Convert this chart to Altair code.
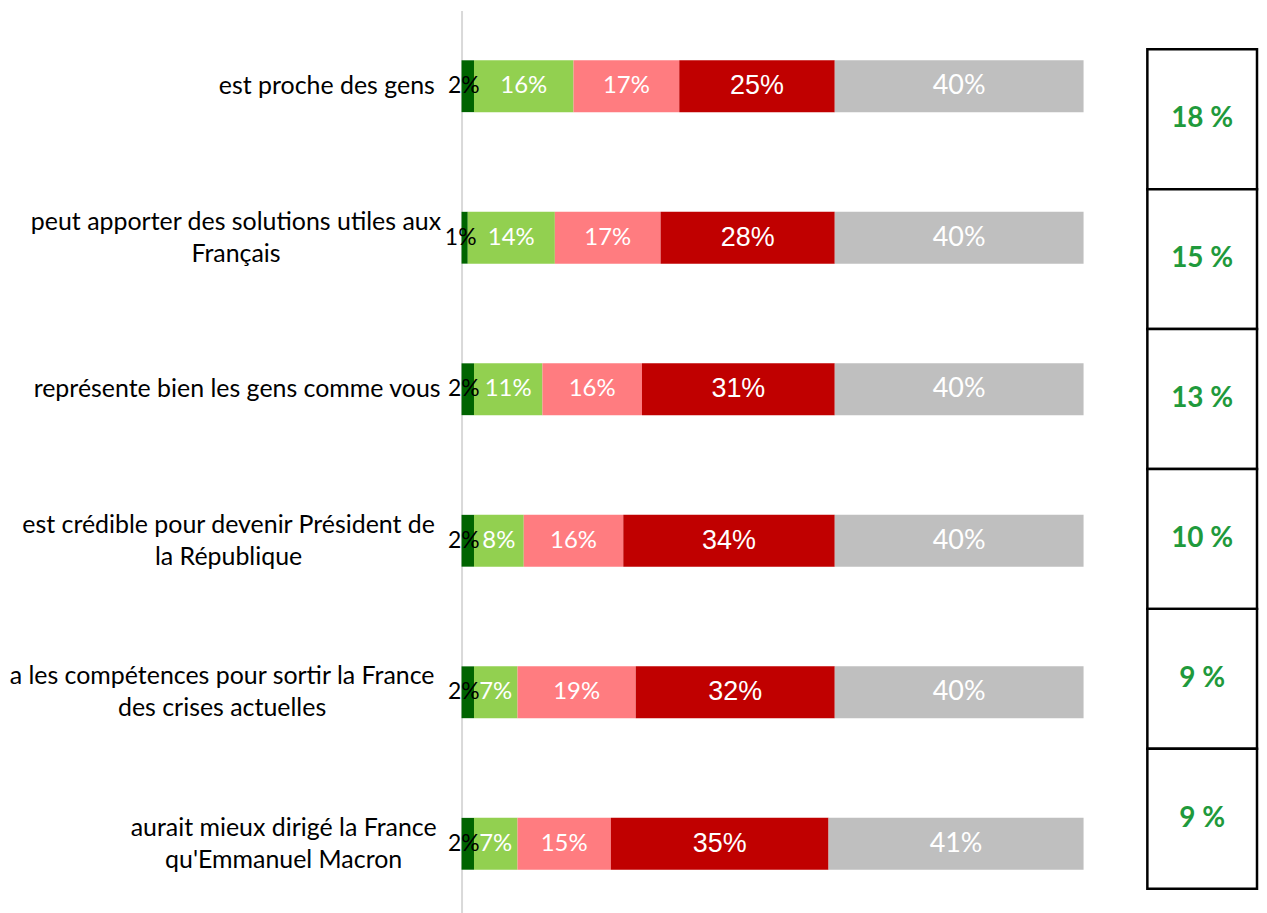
import altair as alt
import pandas as pd

categories = [
    "est proche des gens",
    "peut apporter des solutions utiles aux\nFrançais",
    "représente bien les gens comme vous",
    "est crédible pour devenir Président de\nla République",
    "a les compétences pour sortir la France\ndes crises actuelles",
    "aurait mieux dirigé la France\nqu'Emmanuel Macron",
]
series_names = [
    "Tout à fait",
    "Plutôt",
    "Plutôt pas",
    "Pas du tout",
    "Ne se prononce pas",
]
tout_a_fait = [2, 1, 2, 2, 2, 2]
plutot = [16, 14, 11, 8, 7, 7]
plutot_pas = [17, 17, 16, 16, 19, 15]
pas_du_tout = [25, 28, 31, 34, 32, 35]
nsp = [40, 40, 40, 40, 40, 41]
totals = [18, 15, 13, 10, 9, 9]

colors = ["#006400", "#92D050", "#FF7C80", "#C00000", "#BFBFBF"]
green_text = "#1F9A3C"

values = [tout_a_fait, plutot, plutot_pas, pas_du_tout, nsp]
rows = []
for i, cat in enumerate(categories):
    for j, s in enumerate(series_names):
        rows.append({"item": cat, "serie": s, "ordre": j, "value": values[j][i]})
df = pd.DataFrame(rows)

box_df = pd.DataFrame({"item": categories, "total": totals})

# label block: each line centred, block right-aligned next to the axis
# (approximate line width: narrow glyphs count less than the others)
def _w(s):
    return f'(5.7*length({s}) + 7.4*length(replace({s}, regexp("[iltfj\' ]", "g"), "")))'


_l1 = "split(datum.value, '\\n')[0]"
_l2 = "peek(split(datum.value, '\\n'))"
pad_expr = f"26 + 0.5 * max({_w(_l1)}, {_w(_l2)})"

y_enc = alt.Y(
    "item:N",
    sort=categories,
    scale=alt.Scale(paddingInner=0, paddingOuter=0),
    axis=alt.Axis(
        title=None,
        labelExpr="split(datum.label, '\\n')",
        labelAlign="center",
        labelBaseline="middle",
        labelPadding={"expr": pad_expr},
        labelOffset={
            "condition": {"test": "indexof(datum.value, '\\n') >= 0", "value": -16},
            "value": 0,
        },
        labelFont="Lato",
        labelFontSize=25,
        labelColor="black",
        labelLineHeight=32,
        labelLimit=0,
        ticks=False,
        grid=False,
        domainColor="#D9D9D9",
        domainWidth=2,
        minExtent=453,
        maxExtent=453,
    ),
)

base = (
    alt.Chart(df)
    .transform_stack(
        stack="value",
        as_=["x0", "x1"],
        groupby=["item"],
        sort=[alt.SortField("ordre", order="ascending")],
    )
    .transform_calculate(mid="(datum.x0 + datum.x1) / 2", label="datum.value + '%'")
)

x_scale = alt.Scale(domain=[0, 100], nice=False, zero=True)

bars = base.mark_bar(size=52).encode(
    y=y_enc,
    x=alt.X("x0:Q", scale=x_scale, axis=None),
    x2="x1:Q",
    color=alt.Color(
        "serie:N", scale=alt.Scale(domain=series_names, range=colors), legend=None
    ),
)


def label_layer(names, color, font, size, dx=0):
    return (
        base.transform_filter(alt.FieldOneOfPredicate(field="serie", oneOf=names))
        .mark_text(color=color, font=font, fontSize=size, baseline="middle", align="center", dx=dx)
        .encode(y=alt.Y("item:N", sort=categories), x=alt.X("mid:Q", scale=x_scale), text="label:N")
    )


left = alt.layer(
    bars,
    label_layer([series_names[0]], "black", "Lato", 23, dx=-4),
    label_layer([series_names[1], series_names[2]], "white", "Lato", 24),
    label_layer([series_names[3]], "white", "Liberation Sans", 27),
    label_layer([series_names[4]], "white", "Lato", 27),
).properties(width=624, height=912)

box_y = alt.Y(
    "item:N",
    sort=categories,
    axis=None,
    scale=alt.Scale(range=[39, 881], paddingInner=0, paddingOuter=0),
)
boxes = alt.Chart(box_df).mark_rect(fill="white", stroke="black", strokeWidth=2.5).encode(y=box_y)
box_text = (
    alt.Chart(box_df)
    .transform_calculate(label="datum.total + ' %'")
    .mark_text(font="Lato", fontWeight="bold", fontSize=28, color=green_text, baseline="middle")
    .encode(y=box_y, text="label:N")
)
right = alt.layer(boxes, box_text).properties(width=110, height=912)

chart = (
    alt.hconcat(left, right, spacing=62)
    .properties(padding={"left": 0, "top": 1, "right": 0, "bottom": 0})
    .configure_view(stroke=None)
)

chart.save("out.html", embed_options={"renderer": "svg", "actions": False})
